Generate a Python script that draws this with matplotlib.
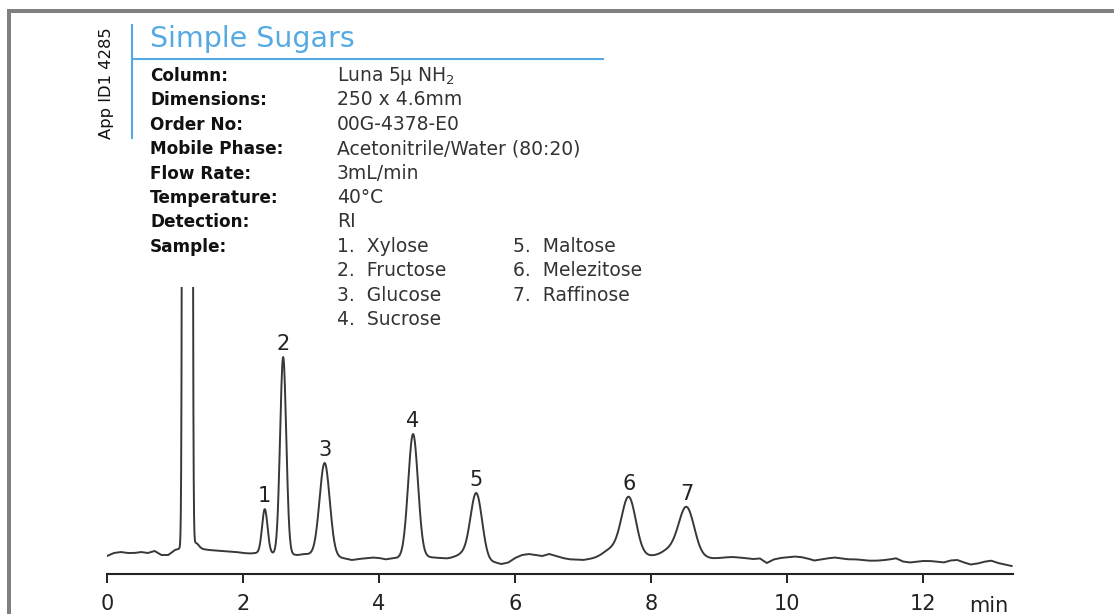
import numpy as np
import matplotlib
matplotlib.use('Agg')
import matplotlib.pyplot as plt
from matplotlib import font_manager
from matplotlib.patches import Rectangle
from matplotlib.lines import Line2D

# numbered peaks: retention time (min), height, sigma (min)
peak_labels = ['1', '2', '3', '4', '5', '6', '7']
peak_times = [2.32, 2.59, 3.20, 4.50, 5.43, 7.67, 8.52]
peak_heights = [44, 197, 93.5, 123, 66.5, 58.5, 49.5]
peak_widths = [0.040, 0.045, 0.075, 0.072, 0.085, 0.105, 0.115]

# solvent front (off scale), its tail and the small leading shoulders
extra_times = [1.182, 1.31, 5.25, 7.42, 8.28]
extra_heights = [1e5, 5, 4, 7, 6]
extra_widths = [0.0243, 0.04, 0.10, 0.12, 0.12]

# detector baseline, one reading every 0.1 min from 0 to 13.3
baseline_step = 0.1
baseline = [
    18, 21, 22, 21, 21, 22, 21, 23, 19, 19,
    24, 26, 26, 26, 25, 24, 23.5, 23, 22.5, 22,
    21, 20.5, 21, 21, 20.5, 20, 20, 19.5, 19, 20,
    19.5, 18.5, 17.5, 17, 16.5, 15.5, 14, 15, 15.7, 16.5,
    16, 14.7, 15.7, 16, 16.5, 17, 17, 17, 16.5, 16,
    15.5, 16, 16, 15, 14, 13, 12, 11.5, 10, 11.5,
    16, 19, 20, 19, 18, 20, 18, 16, 14.7, 14.5,
    14, 15, 16, 17, 17.5, 18, 18, 18, 18, 18,
    18, 18, 18, 17.5, 17, 17, 16.5, 16, 16, 15.7,
    16, 16.7, 17, 16.5, 15.7, 15, 15.5, 11, 14.5, 16,
    16.7, 17.5, 17, 15.5, 13.5, 14.5, 15.7, 16.5, 15.5, 14.7,
    14.7, 14, 13.3, 13.3, 13.7, 14.5, 15.7, 12.5, 11.5, 12.3,
    13, 13, 12.3, 11.5, 13.5, 14, 11.5, 9.5, 10.5, 12.3,
    13.3, 11, 9.5, 8,
]

ticks = [0, 2, 4, 6, 8, 10, 12]
t_end = 13.32

title = 'Simple Sugars'
app_id = 'App ID1 4285'
cond_labels = ['Column:', 'Dimensions:', 'Order No:', 'Mobile Phase:',
               'Flow Rate:', 'Temperature:', 'Detection:', 'Sample:']
cond_values = ['Luna 5µ NH$_2$', '250 x 4.6mm', '00G-4378-E0',
               'Acetonitrile/Water (80:20)', '3mL/min', '40°C', 'RI']
sample_names = ['Xylose', 'Fructose', 'Glucose', 'Sucrose',
                'Maltose', 'Melezitose', 'Raffinose']

W, H = 1114, 614
blue = '#55aae4'


def fx(px):
    return px / W


def fy(py):
    return 1 - py / H


def gauss(t, t0, h, s):
    return h * np.exp(-0.5 * ((t - t0) / s) ** 2)


# build the trace
t = np.linspace(0, 13.3, 2661)
bt = np.arange(len(baseline)) * baseline_step
signal = np.interp(t, bt, baseline)
for t0, h, s in zip(peak_times + extra_times, peak_heights + extra_heights,
                    peak_widths + extra_widths):
    signal += gauss(t, t0, h, s)

fig = plt.figure(figsize=(W / 100, H / 100), dpi=100)

# grey frame on top and left
fig.patches.append(Rectangle((fx(7), fy(H)), 3.5 / W, (H - 9) / H,
                             transform=fig.transFigure, color='#808080', lw=0))
fig.patches.append(Rectangle((fx(7), fy(13)), (W - 7) / W, 4 / H,
                             transform=fig.transFigure, color='#808080', lw=0))

# header
fig.add_artist(Line2D([fx(132), fx(132)], [fy(25), fy(138)], color=blue, lw=1.5))
fig.add_artist(Line2D([fx(132), fx(603)], [fy(58.5), fy(58.5)], color=blue, lw=1.5))
fig.text(fx(150), fy(47), title, fontsize=20.5, color=blue, va='baseline')

names = {f.name for f in font_manager.fontManager.ttflist}
if 'Liberation Sans Narrow' in names:
    fig.text(fx(106.5), fy(83), app_id, rotation=90, ha='center', va='center',
             fontsize=16, family='Liberation Sans Narrow', color='#111111')
else:
    fig.text(fx(106.5), fy(83), app_id, rotation=90, ha='center', va='center',
             fontsize=11.8, fontweight='medium', color='#111111')

row0, dy = 81, 24.4
for i, lab in enumerate(cond_labels):
    fig.text(fx(150), fy(row0 + i * dy), lab, fontsize=12.2, fontweight='bold',
             color='#111111', va='baseline')
for i, val in enumerate(cond_values):
    fig.text(fx(337), fy(row0 + i * dy), val, fontsize=13.5,
             color='#333333', va='baseline')
for i, name in enumerate(sample_names):
    col, row = (337, 7 + i) if i < 4 else (513, 7 + i - 4)
    fig.text(fx(col), fy(row0 + row * dy), f'{i + 1}.  {name}', fontsize=13.5,
             color='#333333', va='baseline')

# chromatogram
ax = fig.add_axes([fx(107), fy(574), 906 / W, 287 / H])
ax.plot(t, signal, color='#383838', lw=1.4)
ax.set_xlim(0, t_end)
ax.set_ylim(0, 287)
for s in ['top', 'right', 'left']:
    ax.spines[s].set_visible(False)
ax.spines['bottom'].set_linewidth(1.5)
ax.spines['bottom'].set_color('#222222')
ax.set_yticks([])
ax.set_xticks(ticks)
ax.set_xticklabels([str(v) for v in ticks])
ax.tick_params(axis='x', direction='out', length=6.5, width=1.4, pad=8,
               labelsize=15, colors='#222222')
ax.text(12.96, -0.132, 'min', transform=ax.get_xaxis_transform(),
        ha='center', va='baseline', fontsize=15, color='#222222')

for lab, t0 in zip(peak_labels, peak_times):
    near = np.abs(t - t0) < 0.06
    apex = signal[near].max()
    ax.annotate(lab, (t0, apex), xytext=(0, 5), textcoords='offset points',
                ha='center', va='baseline', fontsize=15, color='#222222')

fig.savefig('out.png', dpi=100)
